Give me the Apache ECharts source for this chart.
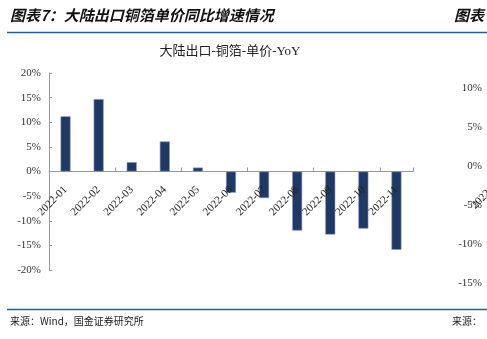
<!DOCTYPE html>
<html>
<head>
<meta charset="utf-8">
<script src="https://cdn.jsdelivr.net/npm/echarts@6/dist/echarts.min.js"></script>
<style>
html,body{margin:0;padding:0;background:#fff;}
#chart{width:487px;height:339px;}
</style>
</head>
<body>
<div id="chart"></div>
<script>
// Monthly categories and YoY change of mainland copper foil export unit price (%)
const months = ['2022-01','2022-02','2022-03','2022-04','2022-05','2022-06','2022-07','2022-08','2022-09','2022-10','2022-11'];
const yoyValues = [11.2, 14.7, 1.9, 6.1, 0.8, -4.3, -5.4, -12.0, -12.8, -11.6, -15.9];
const leftTicks = {min: -20, max: 20, interval: 5};
const rightTicks = {min: -15, max: 10, interval: 5};

const serif = '"Liberation Serif", "Noto Sans CJK SC", serif';
const cjk = '"Noto Sans CJK SC", sans-serif';

const chart = echarts.init(document.getElementById('chart'), null, {renderer: 'canvas'});
chart.setOption({
  animation: false,
  backgroundColor: '#fff',
  title: {
    text: '大陆出口-铜箔-单价-YoY',
    left: 225, top: 40, textAlign: 'center',
    textStyle: {fontFamily: serif, fontSize: 13, fontWeight: 'normal', color: '#222'}
  },
  grid: [
    // main plot
    {left: 49, right: 74, top: 73, bottom: 69},
    // secondary percentage scale on the right
    {left: 483, right: 2, top: 88, bottom: 56},
    // upper half of the plot: its bottom edge is the zero line, carrying the month labels
    {left: 49, right: 74, top: 73, bottom: 168}
  ],
  xAxis: [
    {
      type: 'category', data: months, gridIndex: 0,
      axisLine: {onZero: true, lineStyle: {color: '#999', width: 1}},
      axisTick: {show: true, inside: true, length: 4, lineStyle: {color: '#999'}},
      axisLabel: {show: false}
    },
    {type: 'value', gridIndex: 1, show: false, min: 0, max: 1},
    {
      type: 'category', data: months, gridIndex: 2, z: 10,
      axisLine: {show: false}, axisTick: {show: false},
      axisLabel: {rotate: 45, interval: 0, margin: 17, fontFamily: serif, fontSize: 11, color: '#222'}
    }
  ],
  yAxis: [
    {
      type: 'value', gridIndex: 0,
      min: leftTicks.min, max: leftTicks.max, interval: leftTicks.interval,
      axisLine: {show: true, lineStyle: {color: '#999'}},
      axisTick: {show: true, inside: true, length: 3, lineStyle: {color: '#999'}},
      splitLine: {show: false},
      axisLabel: {formatter: v => v + '%', fontFamily: serif, fontSize: 11, color: '#333', margin: 8}
    },
    {
      type: 'value', gridIndex: 1, position: 'left',
      min: rightTicks.min, max: rightTicks.max, interval: rightTicks.interval,
      axisLine: {show: false}, axisTick: {show: false}, splitLine: {show: false},
      axisLabel: {formatter: v => v + '%', fontFamily: serif, fontSize: 11, color: '#333', margin: 1}
    },
    {type: 'value', gridIndex: 2, show: false, min: 0, max: 1}
  ],
  series: [
    {
      type: 'bar', xAxisIndex: 0, yAxisIndex: 0,
      data: yoyValues, barWidth: 10,
      itemStyle: {color: '#1f3864', borderColor: '#8a9bbd', borderWidth: 0.6}
    },
    {type: 'scatter', xAxisIndex: 1, yAxisIndex: 1, data: [], silent: true},
    {type: 'scatter', xAxisIndex: 2, yAxisIndex: 2, data: [], silent: true}
  ],
  graphic: [
    {type: 'text', left: 10, top: 8,
      style: {text: '图表7：大陆出口铜箔单价同比增速情况', font: 'italic bold 15px ' + cjk, fill: '#111'}},
    {type: 'text', left: 454, top: 8,
      style: {text: '图表', font: 'italic bold 15px ' + cjk, fill: '#111'}},
    {type: 'line', shape: {x1: 7, y1: 32.5, x2: 487, y2: 32.5},
      style: {stroke: '#2a5f86', lineWidth: 1.5}},
    {type: 'line', shape: {x1: 7, y1: 309.5, x2: 487, y2: 309.5},
      style: {stroke: '#2a5f86', lineWidth: 1.5}},
    {type: 'text', left: 10, top: 316,
      style: {text: '来源：Wind，国金证券研究所', font: '10px ' + cjk, fill: '#222'}},
    {type: 'text', left: 452, top: 316,
      style: {text: '来源：', font: '10px ' + cjk, fill: '#222'}},
    {type: 'text', x: 477, y: 211, rotation: Math.PI / 4,
      style: {text: '2022-12', font: '11px ' + serif, fill: '#222', textAlign: 'left', textVerticalAlign: 'bottom'}}
  ]
});
</script>
</body>
</html>
